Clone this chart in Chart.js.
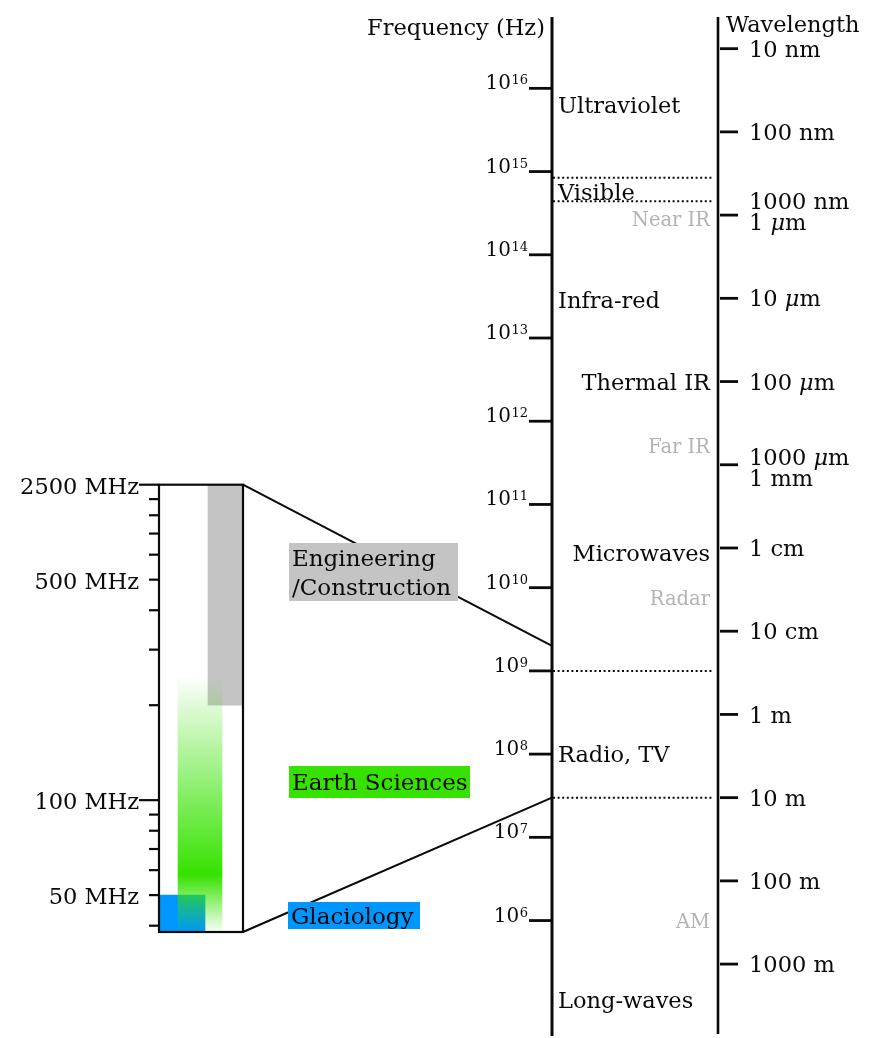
<!DOCTYPE html>
<html lang="en">
<head>
<meta charset="utf-8">
<title>Electromagnetic spectrum and geophysical applications</title>
<script src="https://cdn.jsdelivr.net/npm/chart.js@4.4.1/dist/chart.umd.min.js"></script>
<style>
  html, body { margin: 0; padding: 0; background: #fff; }
  #spectrum { display: block; }
</style>
</head>
<body>
<canvas id="spectrum" width="875" height="1038"></canvas>
<script>
(function () {
  'use strict';

  /* =============================================
   * DATA
   * ============================================= */

  // Frequency axis (Hz): decade ticks, and the span the drawn axis covers
  const freqExponents = [16, 15, 14, 13, 12, 11, 10, 9, 8, 7, 6];
  const freqAxisRange = [4.1e4, 7.2e16];

  // Wavelength axis: tick labels and the wavelength (m) each stands for
  const waveLabels = ['10 nm', '100 nm', '1000 nm\n1 μm', '10 μm', '100 μm', '1000 μm\n1 mm',
    '1 cm', '10 cm', '1 m', '10 m', '100 m', '1000 m'];
  const waveMetres = [1e-8, 1e-7, 1e-6, 1e-5, 1e-4, 1e-3, 1e-2, 1e-1, 1, 10, 100, 1000];

  // Spectrum regions, label placed at this frequency (Hz)
  const bandNames = ['Ultraviolet', 'Visible', 'Infra-red', 'Thermal IR', 'Microwaves', 'Radio, TV', 'Long-waves'];
  const bandHz = [6.3e15, 5.7e14, 2.9e13, 3.0e12, 2.6e10, 1.0e8, 1.1e5];
  const subBandNames = ['Near IR', 'Far IR', 'Radar', 'AM'];
  const subBandHz = [2.7e14, 5.0e11, 7.5e9, 1.0e6];

  // Dotted region boundaries (Hz)
  const boundaryHz = [8.4e14, 4.4e14, 1e9, 3e7];

  // Zoomed panel (MHz)
  const panelRange = [38.2, 1000];
  const panelTicks = [1000, 900, 800, 700, 600, 500, 400, 300, 200, 100, 90, 80, 70, 60, 50, 40];
  const panelLabelValues = [1000, 500, 100, 50];
  const panelLabels = ['2500 MHz', '500 MHz', '100 MHz', '50 MHz'];
  const panelLongTicks = [1000, 100];
  // where the panel's top and bottom edges meet the main axis (Hz)
  const panelLinkHz = [2e9, 3e7];

  // Application bands (MHz)
  const appNames = ['Engineering\n/Construction', 'Earth Sciences', 'Glaciology'];
  const appRanges = [[200, 1000], [38.2, 250], [38.2, 50]];
  const earthPeakMHz = 58;

  /* =============================================
   * LAYOUT / STYLE
   * ============================================= */
  const W = 875;
  const AREA = { top: 17, bottom: 1036 };
  const FREQ_X = 552;
  const WAVE_X = 718;
  const PANEL = { left: 159, right: 243, top: 484.7, bottom: 932 };
  const INK = '#0a0a0a';
  const MUTED = '#b3b3b3';
  const FACE = '"DejaVu Serif", "Liberation Serif", serif';
  const C_LIGHT = 2.998e8;
  const TXT = 22.5;

  const appColors = ['#c4c4c4', '#36e200', '#0096ff'];
  const appBars = [{ x: 225.5, w: 35 }, { x: 200, w: 44 }, { x: 182, w: 46 }];
  const appBoxes = [
    { x: 289, y: 543, w: 169, h: 58 },
    { x: 289, y: 766, w: 181, h: 32 },
    { x: 288, y: 902, w: 132, h: 27 }
  ];
  const bandAlign = { 'Thermal IR': 'right', 'Microwaves': 'right' };
  const waveShift = { 2: -3.5, 5: 2.5 };

  // The panel scale spans the whole chart area; place its range on the panel box
  const decadePx = (PANEL.bottom - PANEL.top) / Math.log10(panelRange[1] / panelRange[0]);
  const mhzMax = panelRange[1] * Math.pow(10, (PANEL.top - AREA.top) / decadePx);
  const mhzMin = panelRange[0] / Math.pow(10, (AREA.bottom - PANEL.bottom) / decadePx);

  /* =============================================
   * DRAW HELPERS
   * ============================================= */
  function font(size, style) {
    return (style ? style + ' ' : '') + size + 'px ' + FACE;
  }

  function seg(ctx, x1, y1, x2, y2, width) {
    ctx.lineWidth = width;
    ctx.beginPath();
    ctx.moveTo(x1, y1);
    ctx.lineTo(x2, y2);
    ctx.stroke();
  }

  // text centred vertically on yMid; any μ is set in italic
  function text(ctx, str, x, yMid, size, align, color) {
    const runs = str.split(/(μ)/).filter(Boolean).map(t => ({ t, f: font(size, t === 'μ' ? 'italic' : '') }));
    let total = 0;
    runs.forEach(r => { ctx.font = r.f; r.w = ctx.measureText(r.t).width; total += r.w; });
    let cx = align === 'right' ? x - total : align === 'center' ? x - total / 2 : x;
    ctx.fillStyle = color || INK;
    ctx.textAlign = 'left';
    ctx.textBaseline = 'alphabetic';
    const base = yMid + size * 0.36;
    runs.forEach(r => { ctx.font = r.f; ctx.fillText(r.t, cx, base); cx += r.w; });
  }

  function earthGradient(context) {
    const chart = context.chart;
    if (!chart.chartArea) return 'rgba(54,226,0,0.5)';
    const s = chart.scales.mhz;
    const top = s.getPixelForValue(appRanges[1][1]);
    const bottom = s.getPixelForValue(appRanges[1][0]);
    const peak = s.getPixelForValue(earthPeakMHz);
    const g = chart.ctx.createLinearGradient(0, top, 0, bottom);
    g.addColorStop(0, 'rgba(54,226,0,0)');
    g.addColorStop((peak - top) / (bottom - top), 'rgba(54,226,0,1)');
    g.addColorStop(1, 'rgba(54,226,0,0.02)');
    return g;
  }

  /* =============================================
   * DIAGRAM PLUGIN (axes, labels, panel, links)
   * ============================================= */
  const spectrumPlugin = {
    id: 'spectrum',
    afterDatasetsDraw(chart) {
      const ctx = chart.ctx;
      const area = chart.chartArea;
      const fy = chart.scales.freq;
      const my = chart.scales.mhz;
      ctx.save();
      ctx.strokeStyle = INK;
      ctx.lineCap = 'butt';

      // links from the panel to the main frequency axis
      seg(ctx, PANEL.right, my.getPixelForValue(panelRange[1]), FREQ_X, fy.getPixelForValue(panelLinkHz[0]), 2);
      seg(ctx, PANEL.right, my.getPixelForValue(panelRange[0]), FREQ_X, fy.getPixelForValue(panelLinkHz[1]), 2);

      // application label boxes
      appNames.forEach((name, i) => {
        const b = appBoxes[i];
        ctx.fillStyle = appColors[i];
        ctx.fillRect(b.x, b.y, b.w, b.h);
        const lines = name.split('\n');
        const step = b.h / lines.length;
        lines.forEach((ln, j) => text(ctx, ln, b.x + 3, b.y + step * (j + 0.5), 23, 'left'));
      });

      // main axes
      seg(ctx, FREQ_X, area.top, FREQ_X, area.bottom, 3);
      seg(ctx, WAVE_X, area.top, WAVE_X, area.bottom - 2, 2.6);
      text(ctx, 'Frequency (Hz)', 545, 27, TXT, 'right');
      text(ctx, 'Wavelength', 726, 24, TXT, 'left');

      // frequency decades: 10^n
      freqExponents.forEach(n => {
        const y = fy.getPixelForValue(Math.pow(10, n));
        seg(ctx, FREQ_X - 23, y, FREQ_X, y, 2.8);
        ctx.font = font(13);
        const supW = ctx.measureText(String(n)).width;
        ctx.fillStyle = INK;
        ctx.textAlign = 'right';
        ctx.textBaseline = 'alphabetic';
        ctx.fillText(String(n), 528, y - 4);
        ctx.font = font(20);
        ctx.fillText('10', 528 - supW - 0.5, y + 1);
      });

      // wavelength ticks
      waveLabels.forEach((lab, i) => {
        const y = fy.getPixelForValue(C_LIGHT / waveMetres[i]);
        seg(ctx, WAVE_X + 2, y, WAVE_X + 20, y, 2.8);
        const lines = lab.split('\n');
        const shift = waveShift[i] || 0;
        lines.forEach((ln, j) => {
          const off = (j - (lines.length - 1) / 2) * 21 + shift;
          text(ctx, ln, WAVE_X + 31, y + off, TXT, 'left');
        });
      });

      // region labels
      bandNames.forEach((name, i) => {
        const y = fy.getPixelForValue(bandHz[i]);
        if (bandAlign[name] === 'right') text(ctx, name, 710, y, TXT, 'right');
        else text(ctx, name, 558, y, TXT, 'left');
      });
      subBandNames.forEach((name, i) => {
        text(ctx, name, 710, fy.getPixelForValue(subBandHz[i]), 19.5, 'right', MUTED);
      });

      // zoomed panel frame, ticks and labels
      const pTop = my.getPixelForValue(panelRange[1]);
      const pBot = my.getPixelForValue(panelRange[0]);
      ctx.lineWidth = 2.2;
      ctx.strokeRect(PANEL.left, pTop, PANEL.right - PANEL.left, pBot - pTop);
      panelTicks.forEach(v => {
        const y = my.getPixelForValue(v);
        const len = panelLongTicks.indexOf(v) >= 0 ? 20 : 10;
        seg(ctx, PANEL.left - len, y, PANEL.left, y, 2.2);
      });
      panelLabelValues.forEach((v, i) => {
        text(ctx, panelLabels[i], 139, my.getPixelForValue(v) + 1, TXT, 'right');
      });

      ctx.restore();
    }
  };

  /* =============================================
   * DATASETS
   * ============================================= */
  const drawOrder = [1, 0, 2];   // green drawn over grey and blue
  const barSets = appNames.map((name, i) => ({
    type: 'bar',
    label: name.replace('\n', ' '),
    xAxisID: 'x',
    yAxisID: 'mhz',
    data: [{ x: appBars[i].x, y: appRanges[i] }],
    barThickness: appBars[i].w,
    grouped: false,
    borderWidth: 0,
    borderSkipped: false,
    backgroundColor: i === 1 ? earthGradient : appColors[i],
    order: drawOrder[i]
  }));

  const boundarySets = boundaryHz.map(hz => ({
    type: 'line',
    label: 'boundary',
    xAxisID: 'x',
    yAxisID: 'freq',
    data: [{ x: FREQ_X + 1, y: hz }, { x: WAVE_X - 4, y: hz }],
    borderColor: INK,
    borderWidth: 2,
    borderDash: [2, 2.6],
    pointRadius: 0,
    fill: false,
    order: 5
  }));

  /* =============================================
   * CHART
   * ============================================= */
  new Chart(document.getElementById('spectrum'), {
    type: 'scatter',
    data: { datasets: barSets.concat(boundarySets) },
    options: {
      responsive: false,
      animation: false,
      devicePixelRatio: 1,
      layout: { padding: { top: AREA.top, bottom: 1038 - AREA.bottom, left: 0, right: 0 } },
      plugins: { legend: { display: false }, tooltip: { enabled: false } },
      events: [],
      scales: {
        x: { type: 'linear', display: false, offset: false, grid: { offset: false }, min: 0, max: W },
        freq: { type: 'logarithmic', axis: 'y', display: false, min: freqAxisRange[0], max: freqAxisRange[1] },
        mhz: { type: 'logarithmic', axis: 'y', display: false, min: mhzMin, max: mhzMax }
      }
    },
    plugins: [spectrumPlugin]
  });
})();
</script>
</body>
</html>
